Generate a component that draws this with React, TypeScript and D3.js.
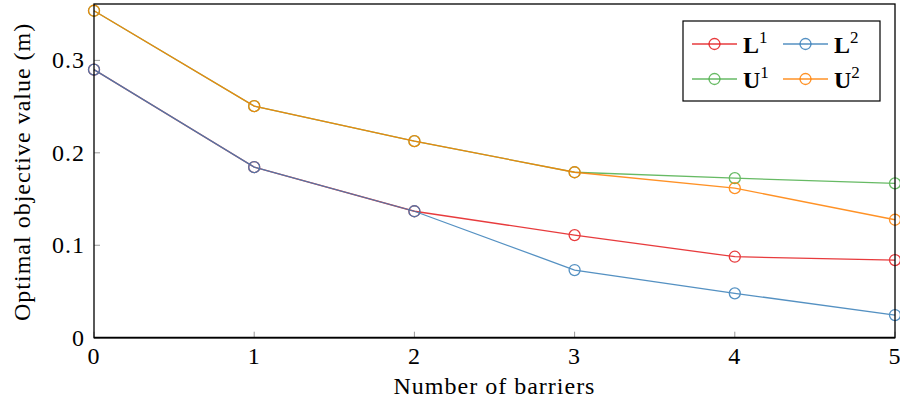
import React from "react";
import * as d3 from "d3";

const xValues = [0, 1, 2, 3, 4, 5];
const seriesNames = ["L1", "L2", "U1", "U2"];
const L1 = [0.29, 0.1845, 0.1368, 0.111, 0.0876, 0.084];
const L2 = [0.29, 0.1845, 0.1368, 0.0732, 0.048, 0.0245];
const U1 = [0.3537, 0.2505, 0.2126, 0.179, 0.1726, 0.167];
const U2 = [0.3537, 0.2505, 0.2126, 0.179, 0.1618, 0.1276];
const xTicks = [0, 1, 2, 3, 4, 5];
const yTicks = [0, 0.1, 0.2, 0.3];
const colors = ["#e41a1c", "#377eb8", "#4daf4a", "#ff7f00"];
const legendBase = ["L", "L", "U", "U"];
const legendSup = ["1", "2", "1", "2"];

const W = 900, H = 405;
const left = 94, right = 895, top = 4, bottom = 337.7;
const FONT = "'Liberation Serif', 'DejaVu Serif', serif";
const FS = 24;
const LS = 1;

export default function App() {
  const x = d3.scaleLinear().domain([0, 5]).range([left, right]);
  const y = d3.scaleLinear().domain([0, 0.361]).range([bottom, top]);
  const data = [L1, L2, U1, U2];
  const line = d3.line<number>().x((_, i) => x(xValues[i])).y((d) => y(d));

  const legendPos = [
    { lx: 692, ty: 44 },
    { lx: 783, ty: 44 },
    { lx: 692, ty: 79 },
    { lx: 783, ty: 79 },
  ];

  return (
    <div style={{ position: "absolute", left: 0, top: 0 }}>
      <svg width={W} height={H} style={{ display: "block", background: "#fff" }} fontFamily={FONT}>
        {xTicks.map((t) => (
          <line key={"xt" + t} x1={x(t)} x2={x(t)} y1={bottom} y2={bottom - 6} stroke="#999" strokeWidth={1} />
        ))}
        {yTicks.map((t) => (
          <line key={"yt" + t} x1={left} x2={left + 6} y1={y(t)} y2={y(t)} stroke="#999" strokeWidth={1} />
        ))}
        {data.map((d, si) => (
          <g key={seriesNames[si]} opacity={0.85}>
            <path d={line(d) || ""} fill="none" stroke={colors[si]} strokeWidth={1.3} />
            {d.map((v, i) => (
              <circle key={i} cx={x(xValues[i])} cy={y(v)} r={5.5} fill="none" stroke={colors[si]} strokeWidth={1.3} />
            ))}
          </g>
        ))}
        <rect x={left} y={top} width={right - left} height={bottom - top} fill="none" stroke="#000" strokeWidth={1.3} />
        <line x1={left} x2={right} y1={bottom} y2={bottom} stroke="#000" strokeWidth={1.8} />
        {xTicks.map((t) => (
          <text key={"xl" + t} x={x(t)} y={363.5} textAnchor="middle" fontSize={FS} letterSpacing={LS}>{t}</text>
        ))}
        {yTicks.map((t) => (
          <text key={"yl" + t} x={left - 9} y={y(t) + 8} textAnchor="end" fontSize={FS} letterSpacing={LS}>{t === 0 ? "0" : t.toFixed(1)}</text>
        ))}
        <text x={(left + right) / 2} y={394} textAnchor="middle" fontSize={FS} letterSpacing={LS}>Number of barriers</text>
        <text transform={`translate(30, ${(top + bottom) / 2 + 1}) rotate(-90)`} textAnchor="middle" fontSize={FS} letterSpacing={LS}>Optimal objective value (m)</text>
        <rect x={683} y={21} width={197} height={80} fill="#fff" stroke="#000" strokeWidth={1.2} />
        {seriesNames.map((n, i) => {
          const p = legendPos[i];
          return (
            <g key={"lg" + n}>
              <line x1={p.lx} x2={p.lx + 45} y1={p.ty} y2={p.ty} stroke={colors[i]} strokeWidth={1.3} opacity={0.85} />
              <circle cx={p.lx + 22.5} cy={p.ty} r={5.5} fill="none" stroke={colors[i]} strokeWidth={1.3} opacity={0.85} />
              <text x={p.lx + 51} y={p.ty + 9} fontSize={FS} fontWeight="bold">
                {legendBase[i]}
                <tspan fontSize={17} fontWeight="normal" dy={-10}>{legendSup[i]}</tspan>
              </text>
            </g>
          );
        })}
      </svg>
    </div>
  );
}
